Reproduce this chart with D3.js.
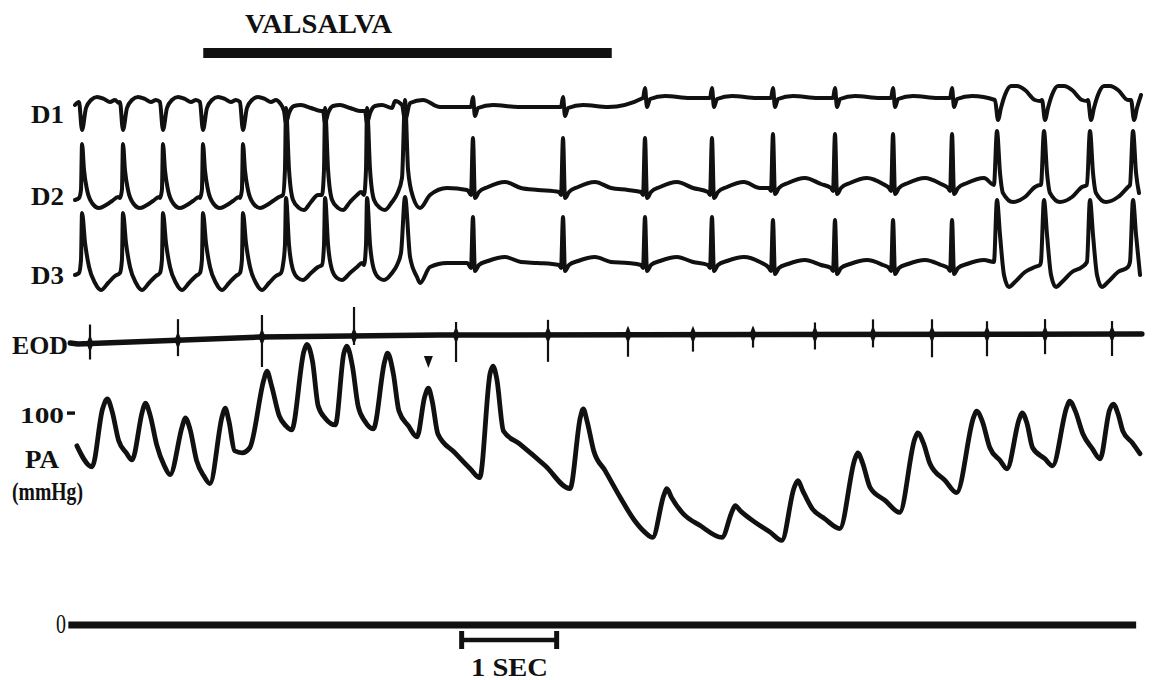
<!DOCTYPE html>
<html>
<head>
<meta charset="utf-8">
<script src="https://cdn.jsdelivr.net/npm/d3@7"></script>
<style>
  html, body { margin: 0; padding: 0; background: #fff; }
  text { font-family: "Liberation Serif", "Times New Roman", serif; fill: #111; }
</style>
</head>
<body>
<script>
// ---- Recording: Valsalva manoeuvre, ECG leads D1-D3, EOD marker, arterial pressure ----

// Time of each QRS complex (s) and its morphology class
const beatTimes = [0.074, 0.505, 0.926, 1.347, 1.768, 2.221, 2.632, 3.074, 3.474,
                   4.189, 5.137, 6.000, 6.705, 7.347, 8.000, 8.611, 9.232,
                   9.705, 10.200, 10.684, 11.137];
const beatTypes = ["A","A","A","A","A","B","B","B","C",
                   "N","N","N","N","N","N","N","N",
                   "D","D","D","D"];

// Baseline level of each lead at each beat (mV)
const d1Level = [0,0,0,0,0,-0.06,-0.06,-0.06,0,-0.04,-0.04,0.14,0.14,0.14,0.14,0.14,0.14,0.1,0.1,0.1,0.1];
const d2Level = [0,0,0,0,0,0,0,0,0,0.2,0.2,0.2,0.2,0.28,0.28,0.28,0.28,0.14,0.14,0.14,0.14];
const d3Level = [0,0,0,0,0,0,0,0,0,0.24,0.24,0.24,0.24,0.18,0.18,0.18,0.18,0.1,0.1,0.1,0.1];

// Complex shapes per class: [time from QRS (s), amplitude (mV)]
const d1Shapes = {
  A: [[-0.032,0.06],[0,-0.5],[0.042,-0.06],[0.095,0.1],[0.158,0.16],[0.232,0.12],[0.295,0.06],[0.347,0.1],[0.389,0.04]],
  B: [[-0.021,-0.06],[0,-0.3],[0.032,-0.1],[0.084,0.04],[0.158,0.06],[0.263,0],[0.368,-0.06]],
  C: [[-0.105,0.08],[-0.032,0],[0,-0.3],[0.053,0.04],[0.189,0.1],[0.368,-0.04],[0.632,-0.04]],
  N: [[-0.021,0],[0,0.2],[0.021,-0.18],[0.053,-0.02],[0.211,0.04],[0.474,0]],
  D: [[-0.021,0],[0.011,-0.4],[0.042,-0.16],[0.084,0.1],[0.147,0.28],[0.211,0.28],[0.295,0.2],[0.4,0],[0.453,-0.02]]
};
const d2Shapes = {
  A: [[-0.032,0.04],[-0.011,0.2],[0,1.12],[0.021,0.6],[0.053,0.2],[0.105,-0.06],[0.179,-0.16],[0.253,-0.1],[0.316,-0.02],[0.379,0.06]],
  B: [[-0.032,0.1],[-0.011,0.6],[0,1.84],[0.032,0.6],[0.074,0],[0.137,-0.16],[0.189,-0.2],[0.263,-0.04],[0.337,0.1],[0.379,0.16]],
  C: [[-0.084,0.12],[-0.032,0.44],[0,2.0],[0.032,0.6],[0.084,0.06],[0.158,-0.16],[0.263,0.1],[0.442,0.24],[0.653,0.2]],
  N: [[-0.042,-0.04],[-0.021,-0.1],[0,1.04],[0.021,-0.16],[0.063,-0.04],[0.158,0.06],[0.337,0.16],[0.505,0.04],[0.684,0]],
  D: [[-0.032,0.16],[0,1.24],[0.032,0.4],[0.063,0],[0.168,-0.18],[0.295,-0.08],[0.4,0.12],[0.453,0.16]]
};
const d3Shapes = {
  A: [[-0.032,0.04],[-0.011,0.3],[0,1.24],[0.032,0.64],[0.074,0.16],[0.137,-0.16],[0.2,-0.3],[0.274,-0.16],[0.347,-0.02],[0.4,0.04]],
  B: [[-0.032,0.2],[-0.011,0.6],[0,1.54],[0.032,0.6],[0.074,0.1],[0.126,-0.06],[0.179,-0.1],[0.263,0.04],[0.337,0.16],[0.389,0.24]],
  C: [[-0.084,0.2],[-0.042,0.45],[0,1.56],[0.053,0.36],[0.126,-0.04],[0.158,-0.16],[0.263,0.16],[0.442,0.24],[0.653,0.24]],
  N: [[-0.042,-0.04],[-0.021,-0.1],[0,0.92],[0.021,-0.16],[0.063,-0.04],[0.158,0.04],[0.337,0.12],[0.505,0.02],[0.684,0]],
  D: [[-0.032,0.16],[0,1.4],[0.032,0.7],[0.074,-0.1],[0.126,-0.34],[0.189,-0.24],[0.295,-0.04],[0.4,0.06],[0.453,0.1]]
};

// EOD channel: baseline drift and marker spikes (arbitrary units)
const eodBaseT = [-0.05, 0.03, 1.95, 3.84, 11.23];
const eodBaseV = [-0.16, -0.18, -0.04, 0, 0.02];
const eodSpikeT = [0.158, 1.084, 1.968, 2.937, 4.011, 4.979, 5.821, 6.505, 7.137, 7.789, 8.4, 9.021, 9.6, 10.211, 10.916];
const eodSpikeUp = [0.38, 0.42, 0.44, 0.58, 0.26, 0.3, 0.14, 0.1, 0.14, 0.24, 0.3, 0.3, 0.26, 0.3, 0.26];
const eodSpikeDown = [-0.32, -0.32, -0.6, -0.18, -0.54, -0.54, -0.44, -0.34, -0.26, -0.3, -0.26, -0.46, -0.44, -0.4, -0.44];

// Arterial pressure trace: [time (s), mmHg]
const paPoints = [
  [0.02,84.5],[0.18,74.6],[0.29,101.9],[0.34,106.6],[0.39,100.9],[0.46,86.9],[0.54,81.2],[0.60,77.9],
  [0.71,100.9],[0.74,104.7],[0.79,99.1],[0.86,85.0],[0.94,75.1],[1.00,70.9],
  [1.13,93.9],[1.16,97.7],[1.21,92.5],[1.28,77.5],[1.36,70.0],[1.42,66.7],
  [1.55,98.6],[1.58,102.3],[1.62,96.2],[1.68,82.2],[1.76,81.2],[1.84,83.6],
  [1.99,116.0],[2.02,119.7],[2.07,112.7],[2.15,98.6],[2.22,93.9],[2.28,92.0],
  [2.41,129.1],[2.44,132.4],[2.50,124.4],[2.56,103.3],[2.64,97.2],[2.74,94.4],
  [2.83,128.2],[2.86,131.5],[2.92,122.1],[2.98,103.3],[3.05,96.2],[3.14,92.5],
  [3.26,124.4],[3.29,128.2],[3.35,118.8],[3.41,100.9],[3.51,93.9],[3.60,88.7],
  [3.68,107.5],[3.72,111.7],[3.76,105.6],[3.82,90.1],[4.00,81.2],[4.16,73.7],[4.26,69.5],
  [4.37,118.8],[4.40,122.1],[4.44,116.0],[4.51,91.5],[4.68,85.4],[4.95,75.1],[5.21,64.3],
  [5.32,98.1],[5.35,101.9],[5.39,96.2],[5.46,82.2],[5.58,72.8],[5.74,60.1],[5.89,49.3],[6.00,43.7],[6.08,41.3],
  [6.20,61.5],[6.23,64.3],[6.28,60.1],[6.40,52.6],[6.58,46.9],[6.81,41.3],
  [6.92,54.0],[6.95,56.3],[7.00,54.0],[7.16,48.4],[7.32,43.7],[7.44,39.9],
  [7.57,64.8],[7.61,68.1],[7.66,63.4],[7.76,54.9],[7.89,50.2],[8.05,45.5],
  [8.21,78.4],[8.24,81.2],[8.29,76.5],[8.37,64.8],[8.53,58.7],[8.68,53.1],
  [8.84,87.8],[8.87,90.6],[8.93,85.9],[9.00,76.1],[9.16,68.1],[9.28,62.4],
  [9.46,98.1],[9.49,100.9],[9.55,96.2],[9.63,83.6],[9.74,77.5],[9.81,73.7],
  [9.94,97.2],[9.97,100.0],[10.02,95.3],[10.08,83.6],[10.21,78.4],[10.29,75.1],
  [10.44,102.8],[10.47,105.6],[10.53,100.9],[10.61,90.1],[10.71,83.1],[10.79,78.4],
  [10.89,101.4],[10.93,104.2],[10.98,99.5],[11.03,91.5],[11.13,85.9],[11.21,80.8]
];

// Annotations
const valsalvaSpan = [1.35, 5.65];     // s
const beatMarker = [3.72, 124];         // s, mmHg
const paTicks = [100];                  // mmHg
const paZero = [-0.07, 11.17];          // s, extent of 0 mmHg line
const timeBar = [4.07, 5.07];           // 1 s calibration
const traceEnd = 11.23;

// ---- scales ----
const W = 1152, H = 680;
const x = d3.scaleLinear().domain([0, 11.3]).range([75, 75 + 11.3 * 95]);
const leadScale = ref => d3.scaleLinear().domain([-1, 1]).range([ref + 50, ref - 50]);
const yD1 = leadScale(105), yD2 = leadScale(200), yD3 = leadScale(275);
const yEod = d3.scaleLinear().domain([-1, 1]).range([385, 285]);
const yPa = d3.scaleLinear().domain([0, 100]).range([625, 413]);

const svg = d3.select("body").append("svg").attr("width", W).attr("height", H);
svg.append("rect").attr("width", W).attr("height", H).attr("fill", "#fff");

// ---- build ECG leads from beat list ----
function leadSeries(shapes, levels) {
  const pts = [[0, levels[0]]];
  beatTimes.forEach((bt, i) => {
    const tpl = shapes[beatTypes[i]];
    const nextStart = i + 1 < beatTimes.length
      ? beatTimes[i + 1] + shapes[beatTypes[i + 1]][0][0] - 0.004 : traceEnd;
    tpl.forEach(([dt, v]) => {
      const t = bt + dt;
      if (t < nextStart && t <= traceEnd && t > pts[pts.length - 1][0] + 0.001) {
        pts.push([t, levels[i] + v]);
      }
    });
  });
  return pts;
}

const ink = "#111";
function drawLead(shapes, levels, yS, w) {
  const line = d3.line().x(d => x(d[0])).y(d => yS(d[1])).curve(d3.curveMonotoneX);
  svg.append("path").datum(leadSeries(shapes, levels))
    .attr("d", line).attr("fill", "none").attr("stroke", ink)
    .attr("stroke-width", w).attr("stroke-linejoin", "round").attr("stroke-linecap", "round");
}
drawLead(d1Shapes, d1Level, yD1, 4);
drawLead(d2Shapes, d2Level, yD2, 4);
drawLead(d3Shapes, d3Level, yD3, 4);

// ---- EOD channel ----
const eodBase = d3.scaleLinear().domain(eodBaseT).range(eodBaseV);
svg.append("path").datum(eodBaseT.map((t, i) => [t, eodBaseV[i]]))
  .attr("d", d3.line().x(d => x(d[0])).y(d => yEod(d[1])))
  .attr("fill", "none").attr("stroke", ink).attr("stroke-width", 5.5).attr("stroke-linecap", "round");
const spikes = svg.append("g");
eodSpikeT.forEach((t, i) => {
  const b = eodBase(t), cx = x(t);
  spikes.append("line")
    .attr("x1", cx).attr("x2", cx)
    .attr("y1", yEod(b + eodSpikeUp[i])).attr("y2", yEod(b + eodSpikeDown[i]))
    .attr("stroke", ink).attr("stroke-width", 2.2);
  const cy = yEod(b);
  spikes.append("path")
    .attr("d", `M${cx},${cy - 9}L${cx + 3.5},${cy}L${cx},${cy + 9}L${cx - 3.5},${cy}Z`)
    .attr("fill", ink);
});

// ---- arterial pressure ----
svg.append("path").datum(paPoints)
  .attr("d", d3.line().x(d => x(d[0])).y(d => yPa(d[1])).curve(d3.curveMonotoneX))
  .attr("fill", "none").attr("stroke", ink).attr("stroke-width", 4.8)
  .attr("stroke-linejoin", "round").attr("stroke-linecap", "round");

// beat marker (downward triangle)
{
  const mx = x(beatMarker[0]), my = yPa(beatMarker[1]);
  svg.append("path").attr("d", `M${mx - 4.5},${my - 6}L${mx + 4.5},${my - 6}L${mx},${my + 6}Z`).attr("fill", ink);
}

// 100 mmHg tick and 0 mmHg line
paTicks.forEach(v => {
  svg.append("rect").attr("x", 67).attr("y", yPa(v) - 1.6).attr("width", 8).attr("height", 3.4).attr("fill", ink);
});
svg.append("line")
  .attr("x1", x(paZero[0])).attr("x2", x(paZero[1]))
  .attr("y1", yPa(0)).attr("y2", yPa(0))
  .attr("stroke", ink).attr("stroke-width", 7);

// Valsalva bar
svg.append("line")
  .attr("x1", x(valsalvaSpan[0])).attr("x2", x(valsalvaSpan[1]))
  .attr("y1", 53).attr("y2", 53)
  .attr("stroke", ink).attr("stroke-width", 10);

// 1 s calibration bar
{
  const x0 = x(timeBar[0]), x1 = x(timeBar[1]), yb = 640;
  svg.append("line").attr("x1", x0).attr("x2", x1).attr("y1", yb).attr("y2", yb)
    .attr("stroke", ink).attr("stroke-width", 4.5);
  [x0, x1].forEach(xx => {
    svg.append("line").attr("x1", xx).attr("x2", xx).attr("y1", yb - 9).attr("y2", yb + 9)
      .attr("stroke", ink).attr("stroke-width", 5);
  });
}

// ---- labels ----
function label(txt, px, py, size, len, weight) {
  svg.append("text").attr("x", px).attr("y", py)
    .attr("font-size", size).attr("font-weight", weight || "bold")
    .attr("textLength", len).attr("lengthAdjust", "spacingAndGlyphs")
    .text(txt);
}
label("VALSALVA", 245, 33, 27, 147);
label("D1", 31, 123, 25, 33);
label("D2", 31, 205, 25, 33);
label("D3", 31, 284, 25, 33);
label("EOD", 12, 354, 25, 56);
label("100", 20, 423, 24, 44);
label("PA", 25, 468, 25, 34);
label("(mmHg)", 12, 500, 25, 71);
label("0", 56, 633, 27, 10, "normal");
label("1 SEC", 471, 676, 25, 77);
</script>
</body>
</html>
